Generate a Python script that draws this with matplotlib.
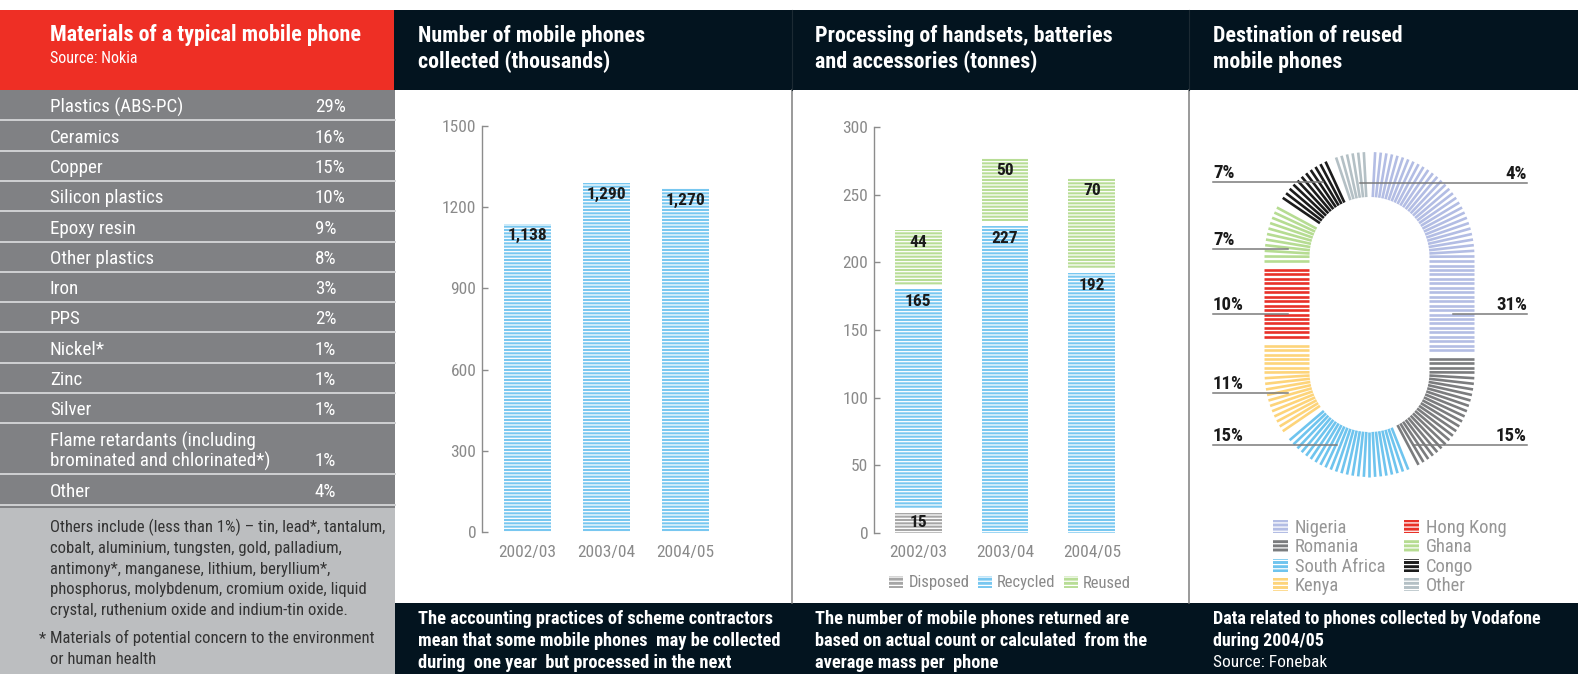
import matplotlib
matplotlib.use('Agg')
import matplotlib.pyplot as plt
from matplotlib import font_manager
from matplotlib.patches import Rectangle, Patch
from matplotlib.collections import LineCollection
import numpy as np

# --- data ---
materials = ['Plastics (ABS-PC)', 'Ceramics', 'Copper', 'Silicon plastics', 'Epoxy resin',
             'Other plastics', 'Iron', 'PPS', 'Nickel*', 'Zinc', 'Silver',
             'Flame retardants (including\nbrominated and chlorinated*)', 'Other']
material_pct = [29, 16, 15, 10, 9, 8, 3, 2, 1, 1, 1, 1, 4]
others_note = ['Others include (less than 1%) \u2013 tin, lead*, tantalum,',
               'cobalt, aluminium, tungsten, gold, palladium,',
               'antimony*, manganese, lithium, beryllium*,',
               'phosphorus, molybdenum, cromium oxide, liquid',
               'crystal, ruthenium oxide and indium-tin oxide.']
concern_note = ['Materials of potential concern to the environment', 'or human health']

years = ['2002/03', '2003/04', '2004/05']
collected = [1138, 1290, 1270]
disposed = [15, 0, 0]
recycled = [165, 227, 192]
reused = [44, 50, 70]

destinations = ['Nigeria', 'Romania', 'South Africa', 'Kenya', 'Hong Kong', 'Ghana', 'Congo', 'Other']
dest_pct = [31, 15, 15, 11, 10, 7, 7, 4]

# --- style ---
RED = '#ee2f25'
DARK = '#03141f'
ROWGREY = '#808184'
NOTEGREY = '#bcbec0'
AXC = '#8c8c8c'
TICKC = '#8a8a8a'
BLUE = '#78c7f0'
GREEN = '#b8dd96'
GREY = '#a6a6a6'
dest_colors = ['#b3bde4', '#7b7c7e', '#6fc4ee', '#fdd47a', '#e83128', '#b6dc92', '#1c1c1c', '#b4c0c5']

avail = {f.name for f in font_manager.fontManager.ttflist}
narrow = [n for n in ('Roboto Condensed', 'Liberation Sans Narrow', 'Open Sans Condensed') if n in avail]
if narrow:
    plt.rcParams['font.family'] = [narrow[0], 'DejaVu Sans']
    K = 1.0
else:
    plt.rcParams['font.family'] = ['Roboto', 'DejaVu Sans']
    K = 0.84
plt.rcParams['hatch.linewidth'] = 0.9


def fs(x):
    return x * K


W, H = 1578, 674
fig = plt.figure(figsize=(W / 100, H / 100), dpi=100)

# full-figure axes in pixel units for the panels and table
bg = fig.add_axes([0, 0, 1, 1], zorder=0)
bg.set_xlim(0, W)
bg.set_ylim(H, 0)
bg.axis('off')


def rect(x0, y0, x1, y1, c):
    bg.add_patch(Rectangle((x0, y0), x1 - x0, y1 - y0, color=c, lw=0))


# backgrounds
rect(0, 10, 394, 90, RED)
rect(394, 10, W, 90, DARK)
rect(394, 603, W, H, DARK)
rect(0, 90, 395, 508, ROWGREY)
rect(0, 508, 395, H, NOTEGREY)
for xs in (792, 1189):
    bg.plot([xs, xs], [90, 603], color='#7f7f7f', lw=1.1)
    bg.plot([xs, xs], [10, 90], color='#1c2a33', lw=0.8)

# --- materials table ---
bg.text(50, 41, 'Materials of a typical mobile phone', color='white', fontsize=fs(15.8),
        fontweight='bold', va='baseline')
bg.text(50, 63, 'Source: Nokia', color='white', fontsize=fs(11.5), va='baseline')

top = 90
for name, pct in zip(materials, material_pct):
    lines = name.split('\n')
    h = 30.3 if len(lines) == 1 else 51
    for k, ln in enumerate(lines):
        bg.text(50, top + h - 15 - 20 * (len(lines) - 1 - k), ln, color='white',
                fontsize=fs(13.7), va='center_baseline')
    bg.text(315, top + h - 15, f'{pct}%', color='white', fontsize=fs(13.7), va='center_baseline')
    top += h
    if top < 505:
        bg.plot([0, 395], [top, top], color='#d0d1d3', lw=1.4)

for k, ln in enumerate(others_note):
    bg.text(50, 532 + 20.8 * k, ln, color='#333333', fontsize=fs(12), va='baseline')
bg.text(39, 643, '*', color='#333333', fontsize=fs(12), va='baseline')
for k, ln in enumerate(concern_note):
    bg.text(50, 643 + 20.5 * k, ln, color='#333333', fontsize=fs(12), va='baseline')

# --- panel headers and footers ---
headers = [(418, ['Number of mobile phones', 'collected (thousands)']),
           (815, ['Processing of handsets, batteries', 'and accessories (tonnes)']),
           (1213, ['Destination of reused', 'mobile phones'])]
for x0, lines in headers:
    for k, ln in enumerate(lines):
        bg.text(x0, 42 + 26 * k, ln, color='white', fontsize=fs(15.8), fontweight='bold', va='baseline')

footers = [(418, ['The accounting practices of scheme contractors',
                  'mean that some mobile phones  may be collected',
                  'during  one year  but processed in the next']),
           (815, ['The number of mobile phones returned are',
                  'based on actual count or calculated  from the',
                  'average mass per  phone'])]
for x0, lines in footers:
    for k, ln in enumerate(lines):
        bg.text(x0, 624 + 22 * k, ln, color='white', fontsize=fs(13.2), fontweight='bold', va='baseline')
bg.text(1213, 624, 'Data related to phones collected by Vodafone', color='white',
        fontsize=fs(13), fontweight='bold', va='baseline')
bg.text(1213, 646, 'during 2004/05', color='white', fontsize=fs(13), fontweight='bold', va='baseline')
bg.text(1213, 667, 'Source: Fonebak', color='white', fontsize=fs(12.5), va='baseline')


# --- bar charts ---
def px_axes(x0, y_top, x1, y_bot):
    return fig.add_axes([x0 / W, 1 - y_bot / H, (x1 - x0) / W, (y_bot - y_top) / H], zorder=2)


def style(ax):
    ax.set_facecolor('none')
    for s in ('top', 'right', 'bottom'):
        ax.spines[s].set_visible(False)
    ax.spines['left'].set_color(AXC)
    ax.spines['left'].set_linewidth(1.0)
    ax.tick_params(axis='y', direction='in', length=4.5, width=1.0, color=AXC,
                   labelcolor=TICKC, labelsize=fs(12.5), pad=4)
    ax.tick_params(axis='x', length=0, labelcolor=TICKC, labelsize=fs(12.5), pad=9)


HATCH = '-----'
x = np.arange(len(years))

ax2 = px_axes(482, 126, 732, 532)
style(ax2)
bars = ax2.bar(x, collected, width=0.595, color=BLUE, edgecolor='white', linewidth=0, hatch=HATCH)
for r, v in zip(bars, collected):
    ax2.annotate(f'{v:,}', (r.get_x() + r.get_width() / 2, v), xytext=(0, -8.5),
                 textcoords='offset points', ha='center', va='center', fontsize=fs(12.5),
                 fontweight='bold', color='#1a1a1a')
ax2.set_xlim(-0.57, 2.595)
ax2.set_ylim(0, 1500)
ax2.set_yticks(range(0, 1501, 300))
ax2.set_xticks(x, years)

ax3 = px_axes(874, 127, 1144, 533)
style(ax3)
GAP = 3.5
bottom = np.zeros(len(years))
handles = []
for vals, col, name in [(disposed, GREY, 'Disposed'), (recycled, BLUE, 'Recycled'), (reused, GREEN, 'Reused')]:
    vals = np.array(vals, float)
    start = np.where(bottom > 0, bottom + GAP, bottom)
    hgt = np.where(vals > 0, bottom + vals - start, 0)
    ax3.bar(x, hgt, bottom=start, width=0.54, color=col, edgecolor='white', linewidth=0, hatch=HATCH)
    for xi, b0, v in zip(x, bottom, vals):
        if v <= 0:
            continue
        if v < 25:
            ax3.text(xi, b0 + v / 2, f'{v:.0f}', ha='center', va='center', fontsize=fs(12.5),
                     fontweight='bold', color='#1a1a1a')
        else:
            ax3.annotate(f'{v:.0f}', (xi, b0 + v), xytext=(0, -9), textcoords='offset points',
                         ha='center', va='center', fontsize=fs(12.5), fontweight='bold', color='#1a1a1a')
    bottom = bottom + vals
    handles.append(Patch(facecolor=col, edgecolor='white', linewidth=0, hatch='----', label=name))
ax3.set_xlim(-0.506, 2.598)
ax3.set_ylim(0, 300)
ax3.set_yticks(range(0, 301, 50))
ax3.set_xticks(x, years)
fig.legend(handles=handles, loc='center', bbox_to_anchor=(1010, 583), bbox_transform=bg.transData,
           ncol=3, frameon=False, fontsize=fs(12), labelcolor=TICKC, handlelength=0.85,
           handleheight=0.7, handletextpad=0.3, columnspacing=0.5)

# --- destination "stadium" of radial ticks ---
CX, YT, YB, RI, RO = 1369.5, 257, 372, 60, 105
RM = (RI + RO) / 2
S = YB - YT
ARC = np.pi * RM / 2
L = 4 * ARC + 2 * S


def spoke(s):
    s = s % L
    if s < ARC:
        t = s / RM
        u, c = (np.sin(t), -np.cos(t)), (CX, YT)
    elif s < ARC + S:
        u, c = (1, 0), (CX, YT + s - ARC)
    elif s < 3 * ARC + S:
        t = (s - ARC - S) / RM
        u, c = (np.cos(t), np.sin(t)), (CX, YB)
    elif s < 3 * ARC + 2 * S:
        u, c = (-1, 0), (CX, YB - (s - 3 * ARC - S))
    else:
        t = (s - 3 * ARC - 2 * S) / RM
        u, c = (-np.cos(t), -np.sin(t)), (CX, YT)
    return [(c[0] + RI * u[0], c[1] + RI * u[1]), (c[0] + RO * u[0], c[1] + RO * u[1])]


TPP = 1.6
counts = [int(round(p * TPP)) for p in dest_pct]
slots = sum(counts) + len(counts)
d = L / slots
j = 1
for n, col in zip(counts, dest_colors):
    segs = [spoke((j + k) * d) for k in range(n)]
    bg.add_collection(LineCollection(segs, colors=col, linewidths=1.9, zorder=3))
    j += n + 1

leaders = {'Nigeria': ('R', 314, 1453), 'Romania': ('R', 445, 1413), 'South Africa': ('L', 445, 1337),
           'Kenya': ('L', 393, 1288), 'Hong Kong': ('L', 314, 1288), 'Ghana': ('L', 249, 1288),
           'Congo': ('L', 182, 1323), 'Other': ('R', 183, 1360)}
for name, pct in zip(destinations, dest_pct):
    side, yl, xe = leaders[name]
    if side == 'L':
        bg.plot([1213, xe], [yl, yl], color='#7a7a7a', lw=1.1, zorder=4)
        bg.text(1213, yl - 4, f'{pct}%', ha='left', va='baseline', fontsize=fs(13.5),
                fontweight='bold', color='#1a1a1a')
    else:
        bg.plot([xe, 1527], [yl, yl], color='#7a7a7a', lw=1.1, zorder=4)
        bg.text(1527, yl - 4, f'{pct}%', ha='right', va='baseline', fontsize=fs(13.5),
                fontweight='bold', color='#1a1a1a')

dh = [Patch(facecolor=c, edgecolor='white', linewidth=0, hatch='----', label=n)
      for n, c in zip(destinations, dest_colors)]
bg.legend(handles=dh, loc='upper left', bbox_to_anchor=(1256, 502), bbox_transform=bg.transData,
          ncol=2, frameon=False, fontsize=fs(13.3), labelcolor='#969696', handlelength=0.85,
          handleheight=0.7, handletextpad=0.35, columnspacing=1.0, labelspacing=0.08)

fig.savefig('out.png', dpi=100)
